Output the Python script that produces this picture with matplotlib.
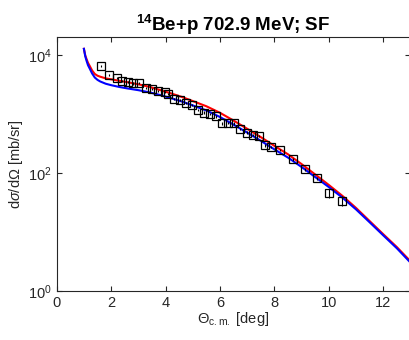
import matplotlib
matplotlib.use("Agg")
import matplotlib.pyplot as plt

plt.rcParams['font.family'] = ['Liberation Sans', 'DejaVu Sans']
plt.rcParams['mathtext.fontset'] = 'custom'
plt.rcParams['mathtext.rm'] = 'Liberation Sans'
plt.rcParams['mathtext.it'] = 'Liberation Sans:italic'
plt.rcParams['mathtext.bf'] = 'Liberation Sans:bold'

# experimental data
theta_exp = [1.62, 1.92, 2.20, 2.41, 2.63, 2.80, 3.01, 3.28, 3.49, 3.73, 3.98, 4.08,
             4.32, 4.53, 4.74, 4.98, 5.18, 5.41, 5.63, 5.84, 6.09, 6.30, 6.50, 6.73,
             6.98, 7.20, 7.43, 7.65, 7.87, 8.20, 8.67, 9.12, 9.55, 10.01, 10.47]
sigma_exp = [6490, 4610, 4050, 3680, 3460, 3300, 3370, 2800, 2660, 2490, 2390, 2190,
             1800, 1730, 1530, 1420, 1170, 1060, 996, 910, 692, 700, 692, 552,
             485, 442, 425, 295, 276, 245, 170, 115, 80.5, 46, 34]
err_exp = [300, 200, 180, 160, 150, 140, 150, 120, 110, 100, 100, 90,
           80, 75, 65, 60, 50, 45, 45, 40, 30, 30, 30, 25,
           22, 20, 20, 15, 14, 13, 10, 8, 6, 8, 7]

# calculated curves
theta_calc = [1.0, 1.05, 1.1, 1.15, 1.22, 1.3, 1.4, 1.5, 1.6, 1.8, 2.0, 2.3, 2.6, 3.0,
              3.4, 3.8, 4.2, 4.6, 5.0, 5.5, 6.0, 6.5, 7.0, 7.5, 8.0, 8.5, 9.0, 9.5,
              10.0, 10.5, 11.0, 11.5, 12.0, 12.5, 13.0]
sigma_red = [12800, 9890, 8510, 7410, 6470, 5500, 4790, 4470, 4300, 4030, 3890, 3660,
             3470, 3200, 2900, 2550, 2240, 1950, 1660, 1355, 1050, 773, 562, 405, 288,
             207, 141, 94, 62.4, 40.7, 25.4, 15.2, 9.1, 5.5, 3.16]
sigma_blue = [12800, 9550, 7940, 6760, 5830, 4900, 4170, 3800, 3570, 3270, 3090, 2880,
              2720, 2540, 2340, 2100, 1860, 1630, 1400, 1150, 890, 660, 484, 351, 251,
              182, 126, 85, 57.5, 38, 24, 14.5, 8.7, 5.25, 3.0]

fig = plt.figure(figsize=(4.09, 3.40), dpi=100)
ax = fig.add_axes([0.1386, 0.145, 0.865, 0.745])

ax.plot(theta_calc, sigma_red, color='red', lw=1.5)
ax.plot(theta_calc, sigma_blue, color='blue', lw=1.5)
ax.errorbar(theta_exp, sigma_exp, yerr=err_exp, fmt='s', mfc='none', mec='black',
            ecolor='black', elinewidth=0.8, capsize=0, ms=5.5, mew=0.9)

ax.set_yscale('log')
ax.set_xlim(0, 13)
ax.set_ylim(1, 2e4)
ax.set_xticks([0, 2, 4, 6, 8, 10, 12])
ax.set_yticks([1, 100, 10000])
ax.yaxis.set_minor_locator(matplotlib.ticker.NullLocator())

for s in ax.spines.values():
    s.set_color('#262626')
    s.set_linewidth(0.8)
ax.tick_params(which='both', direction='in', top=True, right=True, colors='#262626',
               labelsize=10.5, length=3.5, width=0.8, labelcolor='#262626')

ax.set_xlabel(r'$\Theta_{\rm c.m.}$ [deg]', fontsize=10.5, color='#262626', labelpad=0)
ax.set_ylabel(r'd$\it{\sigma}$/d$\Omega$ [mb/sr]', fontsize=10.5, color='#262626', labelpad=2)
ax.set_title(r'$^{\bf 14}$Be+p 702.9 MeV; SF', fontsize=13.5, fontweight='bold', pad=3)

fig.savefig('out.png', dpi=100)
